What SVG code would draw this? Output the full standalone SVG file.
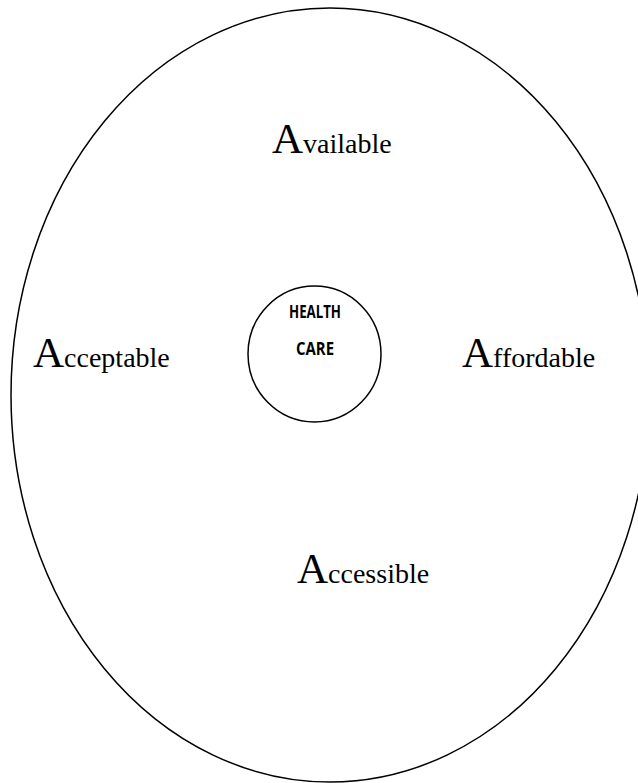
<svg xmlns="http://www.w3.org/2000/svg" width="638" height="783" viewBox="0 0 638 783">
<style>
.shape{fill:none;stroke:#000;stroke-width:1.5}
.lbl{font-family:"Liberation Serif","Times New Roman",serif;font-size:28px;fill:#000}
.big{font-size:43px}
.hc{font-family:"Open Sans","Liberation Sans",sans-serif;font-weight:bold;font-size:17px;fill:#000;text-anchor:middle}
</style>
<rect width="638" height="783" fill="#fff"/>
<g id="outer"><ellipse class="shape" cx="330" cy="395" rx="319" ry="387"/></g>
<g id="health-care">
<ellipse class="shape" cx="314.5" cy="354" rx="66.5" ry="68"/>
<text class="hc" x="315" y="318" textLength="52" lengthAdjust="spacingAndGlyphs">HEALTH</text>
<text class="hc" x="315" y="355" textLength="38" lengthAdjust="spacingAndGlyphs">CARE</text>
</g>
<g id="available"><text class="lbl" x="272" y="153"><tspan class="big">A</tspan>vailable</text></g>
<g id="acceptable"><text class="lbl" x="33" y="367"><tspan class="big">A</tspan>cceptable</text></g>
<g id="affordable"><text class="lbl" x="462" y="367"><tspan class="big">A</tspan>ffordable</text></g>
<g id="accessible"><text class="lbl" x="297" y="583"><tspan class="big">A</tspan>ccessible</text></g>
<g id="connectors"></g>
</svg>
